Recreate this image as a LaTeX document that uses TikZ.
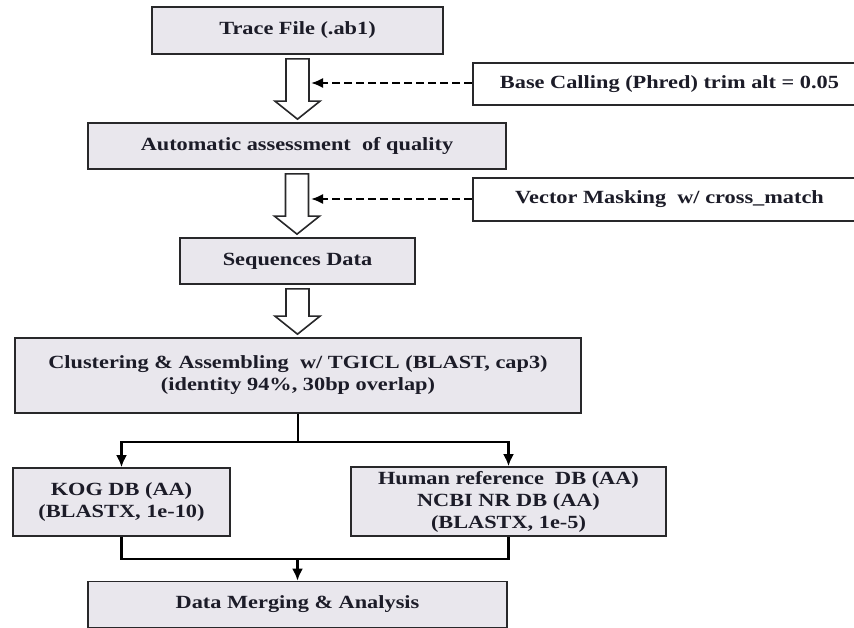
\documentclass[tikz,border=0pt]{standalone}
\usepackage{fontspec}
\setmainfont{Liberation Serif}[FakeStretch=1.2]
\usetikzlibrary{arrows.meta,calc}
\definecolor{boxfill}{RGB}{233,231,237}
\definecolor{boxline}{RGB}{40,40,42}
\definecolor{txt}{RGB}{28,28,40}
\tikzset{
  box/.style={draw=boxline, line width=1.7pt, fill=boxfill, inner sep=0pt,
    align=center, text=txt, font=\fontsize{18.6}{22}\selectfont\bfseries},
  wbox/.style={box, fill=white},
  hollow/.style={draw=boxline, line width=1.6pt, fill=white, line join=miter},
  conn/.style={draw=black, line width=2.2pt, -{Latex[length=12pt,width=11pt]}},
  plain/.style={draw=black, line width=2.2pt},
  dasharrow/.style={draw=black, line width=2pt, dash pattern=on 8pt off 4pt,
    -{Latex[length=12pt,width=10pt]}}
}
\newcommand\hollowarr[2]{%
  \draw[hollow] let \p1=(#1.south), \p2=(#2.north) in
    (\x1-11.5pt,\y1-4pt) -- (\x1+11.5pt,\y1-4pt) -- (\x1+11.5pt,\y2+21pt)
    -- (\x1+22.5pt,\y2+21pt) -- (\x1,\y2+3pt) -- (\x1-22.5pt,\y2+21pt)
    -- (\x1-11.5pt,\y2+21pt) -- cycle;}
\begin{document}
\begin{tikzpicture}[x=1pt,y=-1pt]
\path[clip] (0,0) rectangle (854,628);
\fill[white] (0,0) rectangle (854,628);

\node[box, minimum width=291pt, minimum height=47pt] (trace) at (297.5,30.5) {Trace File (.ab1)};
\node[wbox, minimum width=393pt, minimum height=42pt] (base) at (669.5,84) {Base Calling (Phred) trim alt = 0.05};
\node[box, minimum width=418pt, minimum height=46pt] (auto) at (297,146) {Automatic assessment\ \ of quality};
\node[wbox, minimum width=393pt, minimum height=43pt] (vect) at (669.5,199.5) {Vector Masking\ \ w/ cross\_match};
\node[box, minimum width=235pt, minimum height=46pt] (seq) at (297.5,261) {Sequences Data};
\node[box, minimum width=566pt, minimum height=75pt] (clust) at (298,375.5) {Clustering \& Assembling\ \ w/ TGICL (BLAST, cap3)\\(identity 94\%, 30bp overlap)};
\node[box, minimum width=217pt, minimum height=68pt] (kog) at (121.5,502) {KOG DB (AA)\\(BLASTX, 1e-10)};
\node[box, minimum width=315pt, minimum height=69pt] (human) at (508.5,501.5) {Human reference\ \ DB (AA)\\NCBI NR DB (AA)\\(BLASTX, 1e-5)};
\node[box, minimum width=419pt, minimum height=46pt] (merge) at (297.5,604.5) {Data Merging \& Analysis};

\hollowarr{trace}{auto}
\hollowarr{auto}{seq}
\hollowarr{seq}{clust}

\coordinate (s1) at (311,83);
\coordinate (s2) at (311,199);
\draw[dasharrow] (base.west |- s1) -- (s1);
\draw[dasharrow] (vect.west |- s2) -- (s2);

\draw[conn] (clust.south) -- ++(0,28) -| (kog.north);
\draw[conn] (clust.south) -- ++(0,28) -| (human.north);

\coordinate (jn) at (297.5,559);
\draw[plain] (kog.south) |- (jn) -| (human.south);
\draw[conn] (jn) -- (merge.north);
\end{tikzpicture}
\end{document}
